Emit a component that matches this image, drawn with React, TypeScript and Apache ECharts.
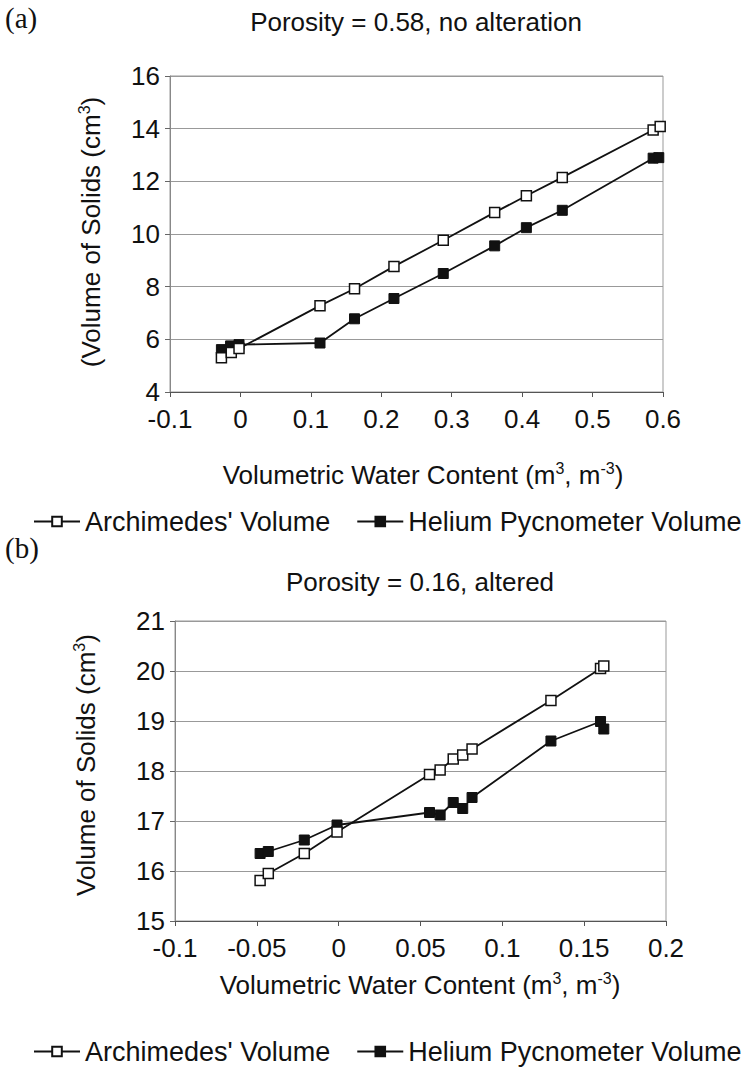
import React, { useEffect, useRef } from 'react';
import * as echarts from 'echarts';

// Panel (a): Porosity = 0.58, no alteration
const archXA = [-0.027, -0.013, -0.002, 0.113, 0.162, 0.218, 0.288, 0.361, 0.406, 0.457, 0.586, 0.596];
const archYA = [5.3, 5.5, 5.65, 7.28, 7.92, 8.77, 9.76, 10.82, 11.45, 12.15, 13.95, 14.08];
const heXA = [-0.027, -0.014, -0.002, 0.113, 0.162, 0.218, 0.288, 0.361, 0.406, 0.457, 0.586, 0.594];
const heYA = [5.61, 5.75, 5.8, 5.86, 6.78, 7.55, 8.5, 9.55, 10.24, 10.9, 12.88, 12.9];

// Panel (b): Porosity = 0.16, altered
const archXB = [-0.048, -0.043, -0.021, -0.001, 0.0555, 0.062, 0.07, 0.0758, 0.0815, 0.1297, 0.16, 0.162];
const archYB = [15.81, 15.95, 16.35, 16.78, 17.93, 18.02, 18.24, 18.32, 18.44, 19.41, 20.05, 20.1];
const heXB = [-0.048, -0.043, -0.021, -0.001, 0.0555, 0.062, 0.07, 0.0758, 0.0815, 0.1297, 0.16, 0.162];
const heYB = [16.35, 16.39, 16.62, 16.92, 17.17, 17.12, 17.37, 17.25, 17.47, 18.6, 18.99, 18.84];

const seriesNames = ["Archimedes' Volume", 'Helium Pycnometer Volume'];
const titles = ['Porosity = 0.58, no alteration', 'Porosity = 0.16, altered'];
const panelLabels = ['(a)', '(b)'];
const xRangeA = [-0.1, 0.6, 0.1];
const yRangeA = [4, 16, 2];
const xRangeB = [-0.1, 0.2, 0.05];
const yRangeB = [15, 21, 1];

const FONT = '"Liberation Sans", Arial, Helvetica, sans-serif';
const SERIF = '"Liberation Serif", "Times New Roman", serif';

const fmt = (v: number) => String(parseFloat(v.toFixed(3)));
const pair = (xs: number[], ys: number[]) => xs.map((x, i) => [x, ys[i]]);

export default function App() {
  const ref = useRef<HTMLDivElement>(null);
  useEffect(() => {
    document.body.style.margin = '0';
    const chart = echarts.init(ref.current!, null, { renderer: 'svg' });

    const xAxisBase = (gridIndex: number, r: number[]) => ({
      type: 'value',
      gridIndex,
      min: r[0],
      max: r[1],
      interval: r[2],
      axisLine: { show: true, onZero: false, lineStyle: { color: '#555', width: 1 } },
      axisTick: { show: true, length: 5, lineStyle: { color: '#555' } },
      splitLine: { show: false },
      axisLabel: {
        margin: 14,
        fontSize: 26,
        fontFamily: FONT,
        color: '#111',
        formatter: (v: number) => fmt(v),
      },
    });
    const yAxisBase = (gridIndex: number, r: number[]) => ({
      type: 'value',
      gridIndex,
      min: r[0],
      max: r[1],
      interval: r[2],
      axisLine: { show: true, onZero: false, lineStyle: { color: '#888', width: 1 } },
      axisTick: { show: true, length: 5, lineStyle: { color: '#666' } },
      splitLine: { show: true, lineStyle: { color: '#999', width: 1 } },
      axisLabel: {
        margin: 10,
        fontSize: 26,
        fontFamily: FONT,
        color: '#111',
        formatter: (v: number) => fmt(v),
      },
    });

    const mk = (name: string, data: number[][], idx: number, open: boolean) => ({
      name,
      type: 'line',
      xAxisIndex: idx,
      yAxisIndex: idx,
      data,
      symbol: 'rect',
      symbolSize: 10,
      lineStyle: { color: '#111', width: 1.8 },
      itemStyle: open
        ? { color: '#fff', borderColor: '#111', borderWidth: 1.5 }
        : { color: '#111', borderColor: '#111', borderWidth: 1 },
      z: open ? 3 : 2,
    });

    const legendBase = (top: number) => ({
      show: true,
      left: 28,
      top,
      itemWidth: 46,
      itemHeight: 12,
      itemGap: 26,
      data: seriesNames,
      textStyle: { fontSize: 27, fontFamily: FONT, color: '#111', padding: [0, 0, 0, 0] },
      selectedMode: false,
    });

    const rich = {
      n: { fontSize: 26, fontFamily: FONT, lineHeight: 30, fill: '#111' },
      s: { fontSize: 16, fontFamily: FONT, lineHeight: 16, verticalAlign: 'top', fill: '#111' },
    };

    const txt = (x: number, y: number, text: string, opts: any = {}) => ({
      type: 'text',
      x,
      y,
      rotation: opts.rotation || 0,
      style: {
        text,
        align: opts.align || 'center',
        verticalAlign: 'middle',
        rich,
        fontSize: opts.fontSize || 26,
        fontFamily: opts.fontFamily || FONT,
        fill: '#111',
      },
    });

    chart.setOption({
      animation: false,
      backgroundColor: '#fff',
      grid: [
        { left: 170, right: 92, top: 76, bottom: 677, show: true, borderColor: '#999', borderWidth: 1 },
        { left: 175, right: 89, top: 621, bottom: 148, show: true, borderColor: '#999', borderWidth: 1 },
      ],
      xAxis: [xAxisBase(0, xRangeA), xAxisBase(1, xRangeB)],
      yAxis: [yAxisBase(0, yRangeA), yAxisBase(1, yRangeB)],
      legend: [legendBase(503), legendBase(1033)],
      series: [
        mk(seriesNames[0], pair(archXA, archYA), 0, true),
        mk(seriesNames[1], pair(heXA, heYA), 0, false),
        mk(seriesNames[0], pair(archXB, archYB), 1, true),
        mk(seriesNames[1], pair(heXB, heYB), 1, false),
      ],
      graphic: [
        txt(5, 18, panelLabels[0], { align: 'left', fontFamily: SERIF, fontSize: 29 }),
        txt(5, 548, panelLabels[1], { align: 'left', fontFamily: SERIF, fontSize: 29 }),
        txt(416, 22, titles[0]),
        txt(420, 582, titles[1]),
        txt(423, 475, '{n|Volumetric Water Content (m}{s|3}{n|, m}{s|-3}{n|)}'),
        txt(420, 985, '{n|Volumetric Water Content (m}{s|3}{n|, m}{s|-3}{n|)}'),
        txt(91, 232, '{n|(Volume of Solids (cm}{s|3}{n|)}', { rotation: Math.PI / 2 }),
        txt(86, 765, '{n|Volume of Solids (cm}{s|3}{n|)}', { rotation: Math.PI / 2 }),
      ],
    });
    return () => chart.dispose();
  }, []);
  return <div ref={ref} style={{ width: 755, height: 1069 }} />;
}
